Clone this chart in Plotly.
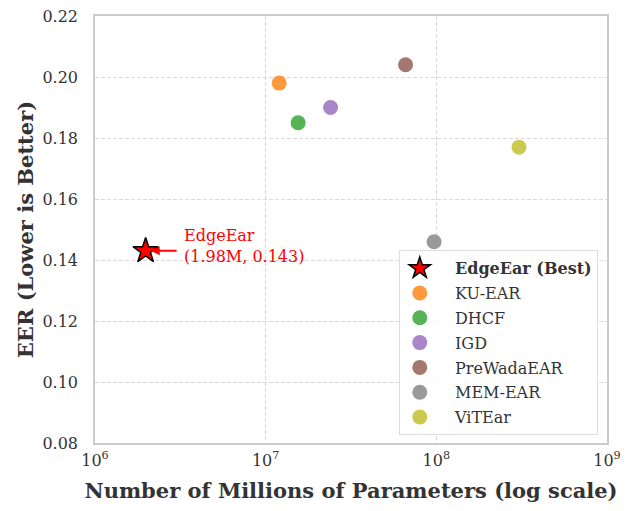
import math
import plotly.graph_objects as go

models = ["EdgeEar (Best)", "KU-EAR", "DHCF", "IGD", "PreWadaEAR", "MEM-EAR", "ViTEar"]
params = [1.98e6, 1.2e7, 1.55e7, 2.4e7, 6.6e7, 9.7e7, 3.05e8]
eer = [0.143, 0.198, 0.185, 0.190, 0.204, 0.146, 0.177]
colors = ["red", "rgba(255,127,14,0.8)", "rgba(44,160,44,0.8)", "rgba(148,103,189,0.8)",
          "rgba(140,86,75,0.8)", "rgba(127,127,127,0.8)", "rgba(188,189,34,0.8)"]
xtick_vals = [1e6, 1e7, 1e8, 1e9]
xtick_text = ["10<sup>6</sup>", "10<sup>7</sup>", "10<sup>8</sup>", "10<sup>9</sup>"]
ytick_vals = [0.08, 0.10, 0.12, 0.14, 0.16, 0.18, 0.20, 0.22]

FONT = "DejaVu Serif"
TXT = "#333333"
PAD = "&nbsp;" * 3
fig = go.Figure()
for i, m in enumerate(models):
    if i == 0:
        fig.add_trace(go.Scatter(x=[params[i]], y=[eer[i]], mode="markers",
                                 name=PAD + "<b>" + m + "</b>", legendgroup=str(i),
                                 marker=dict(symbol="star", size=19, color="red",
                                             line=dict(color="black", width=1.5))))
    else:
        fig.add_trace(go.Scatter(x=[params[i]], y=[eer[i]], mode="markers",
                                 name=PAD + m, legendgroup=str(i),
                                 marker=dict(symbol="circle", size=15, color=colors[i],
                                             line=dict(width=0))))

lx = math.log10(params[0])
fig.add_annotation(x=lx + 0.03, y=eer[0], xref="x", yref="y",
                   ax=lx + 0.19, ay=eer[0], axref="x", ayref="y",
                   text="", showarrow=True, arrowhead=2, arrowsize=0.9, arrowwidth=2, arrowcolor="red")
fig.add_annotation(x=lx + 0.215, y=eer[0] + 0.0087, xref="x", yref="y",
                   text="EdgeEar<br>(1.98M, 0.143)", showarrow=False, xanchor="left", yanchor="top",
                   align="left", font=dict(family=FONT, size=16, color="red"))

axis_common = dict(showline=True, linecolor="#cccccc", linewidth=1.5, mirror=True,
                   gridcolor="#dadada", griddash="4px,2px", gridwidth=0.8, zeroline=False,
                   ticks="", tickfont=dict(family=FONT, size=16, color=TXT))
fig.update_xaxes(type="log", range=[6, 9], tickvals=xtick_vals, ticktext=xtick_text,
                 ticklabelstandoff=2,
                 title=dict(text="<b>Number of Millions of Parameters (log scale)</b>",
                            font=dict(family=FONT, size=21, color=TXT), standoff=14),
                 **axis_common)
fig.update_yaxes(range=[0.08, 0.22], tickvals=ytick_vals, tickformat=".2f",
                 ticklabelstandoff=12,
                 title=dict(text="<b>EER (Lower is Better)</b>",
                            font=dict(family=FONT, size=21, color=TXT), standoff=3),
                 **axis_common)
fig.update_layout(width=642, height=511, margin=dict(l=95, r=35, t=16, b=68, autoexpand=False),
                  plot_bgcolor="white", paper_bgcolor="white",
                  font=dict(family=FONT, color=TXT),
                  legend=dict(x=0.982, y=0.018, xanchor="right", yanchor="bottom",
                              bgcolor="rgba(255,255,255,0.85)", bordercolor="#dddddd", borderwidth=1,
                              font=dict(family=FONT, size=16, color=TXT),
                              itemsizing="trace", tracegroupgap=1))
fig.write_html("out.html", config={"displayModeBar": False},
               post_script="document.body.style.margin='0';")
